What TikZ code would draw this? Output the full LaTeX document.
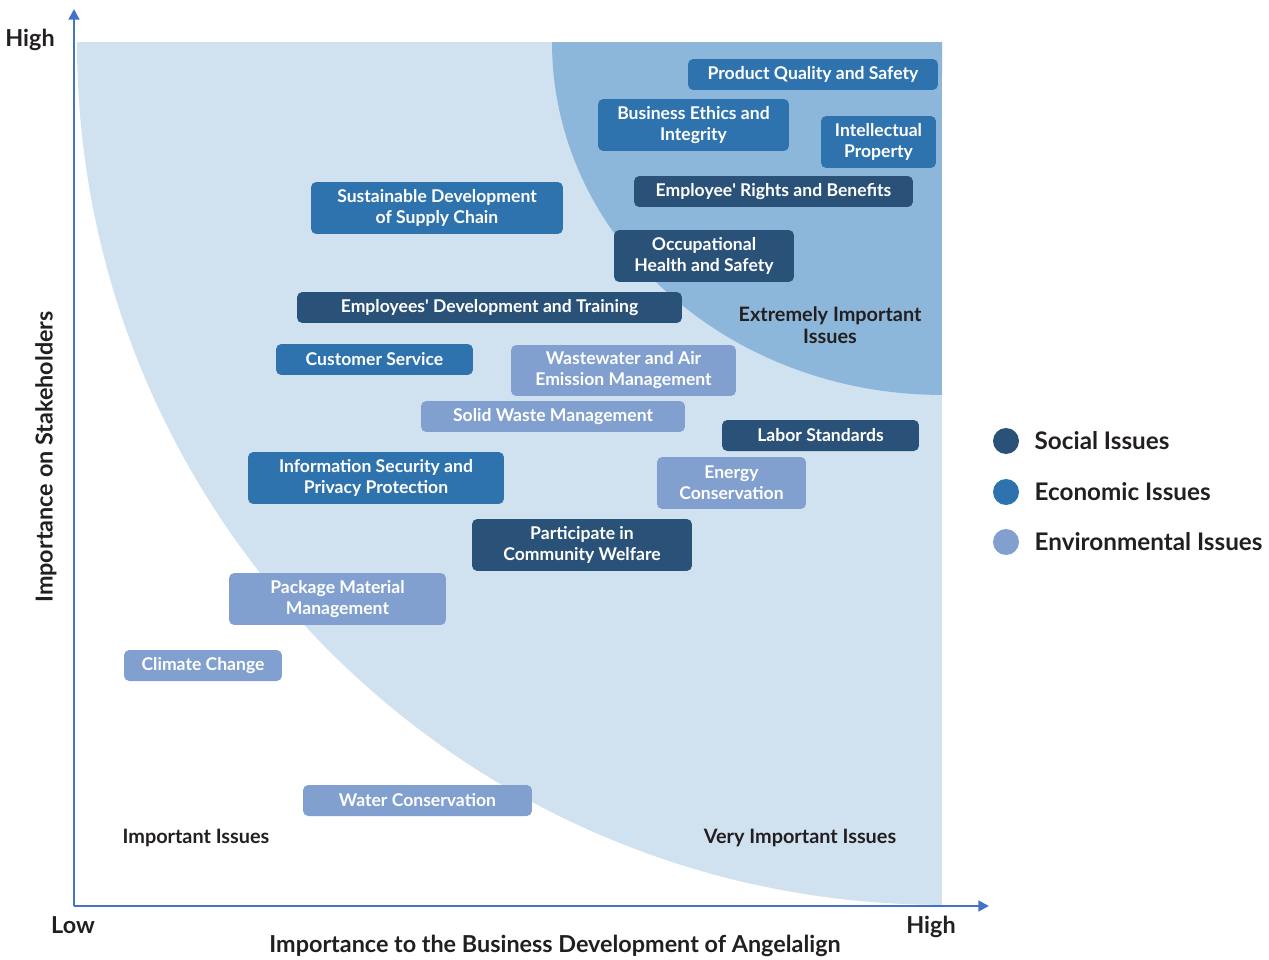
\documentclass[tikz,border=0pt]{standalone}
\usepackage{fontspec}
\setmainfont{Lato}
\usetikzlibrary{positioning,arrows.meta}

\definecolor{socialc}{HTML}{2A5279}
\definecolor{econc}{HTML}{2E73AD}
\definecolor{envc}{HTML}{819FCF}
\definecolor{zonelight}{HTML}{D0E2F0}
\definecolor{zonedark}{HTML}{8DB7DA}
\definecolor{axisc}{HTML}{4472C4}
\definecolor{inkc}{HTML}{231F20}

\tikzset{
  issue/.style={rounded corners=3pt, text=white, font=\fontsize{10}{12}\selectfont\bfseries,
    align=center, inner sep=0pt},
  social/.style={issue, fill=socialc},
  econ/.style={issue, fill=econc},
  env/.style={issue, fill=envc},
  axis/.style={draw=axisc, line width=1.6pt, -{Triangle[length=6pt,width=6pt]}},
  axlabel/.style={text=inkc, font=\fontsize{13.3}{15}\selectfont\bfseries},
  zone/.style={text=inkc, font=\fontsize{11.3}{12.8}\selectfont\bfseries, align=center},
  legdot/.style={circle, minimum size=0.52cm, inner sep=0pt},
  legtext/.style={text=inkc, font=\fontsize{13.8}{15}\selectfont\bfseries, inner sep=0pt, anchor=west}
}

\begin{document}
\begin{tikzpicture}[x=0.02cm, y=-0.02cm]
  \useasboundingbox (0,0) rectangle (1269,960);

  % importance zones
  \fill[zonelight] (942,42) -- (77,42) arc[start angle=180, end angle=270, x radius=17.3cm, y radius=17.26cm] -- cycle;
  \fill[zonedark] (942,42) -- (552,42) arc[start angle=180, end angle=270, x radius=7.8cm, y radius=7.06cm] -- cycle;

  % axes
  \coordinate (origin) at (74,906);
  \coordinate (ytip) at (74,9);
  \coordinate (xtip) at (989,906);
  \draw[axis] (origin) -- (ytip);
  \draw[axis] (origin) -- (xtip);

  \node[axlabel] (yhigh) at (30,40) {High};
  \node[axlabel] (xlow) at (73,925) {Low};
  \node[axlabel] (xhigh) at (931,927) {High};
  \node[axlabel] (xtitle) at (555,946) {Importance to the Business Development of Angelalign};
  \node[axlabel, rotate=90] (ytitle) at (46,457) {Importance on Stakeholders};

  % zone labels
  \node[zone] (extreme) at (830,325) {Extremely Important\\Issues};
  \node[zone] (very) at (800,838) {Very Important Issues};
  \node[zone] (important) at (196,838) {Important Issues};

  % issues
  \node[econ, minimum width=5cm, minimum height=0.62cm] (quality) at (813,74.5) {Product Quality and Safety};
  \node[econ, minimum width=3.82cm, minimum height=1.04cm] (ethics) at (693.5,125) {Business Ethics and\\Integrity};
  \node[econ, minimum width=2.3cm, minimum height=1.04cm] (ip) at (878.5,142) {Intellectual\\Property};
  \node[social, minimum width=5.58cm, minimum height=0.62cm] (rights) at (773.5,191.5) {Employee\textquotesingle{} Rights and Benefits};
  \node[social, minimum width=3.6cm, minimum height=1.04cm] (health) at (704,256) {Occupational\\Health and Safety};
  \node[econ, minimum width=5.04cm, minimum height=1.04cm] (supply) at (437,208) {Sustainable Development\\of Supply Chain};
  \node[social, minimum width=7.7cm, minimum height=0.62cm] (training) at (489.5,307.5) {Employees\textquotesingle{} Development and Training};
  \node[econ, minimum width=3.94cm, minimum height=0.62cm] (service) at (374.5,359.5) {Customer Service};
  \node[env, minimum width=4.5cm, minimum height=1.02cm] (emission) at (623.5,370.5) {Wastewater and Air\\Emission Management};
  \node[env, minimum width=5.28cm, minimum height=0.62cm] (waste) at (553,416.5) {Solid Waste Management};
  \node[social, minimum width=3.94cm, minimum height=0.62cm] (labor) at (820.5,435.5) {Labor Standards};
  \node[econ, minimum width=5.12cm, minimum height=1.04cm] (privacy) at (376,478) {Information Security and\\Privacy Protection};
  \node[env, minimum width=2.98cm, minimum height=1.04cm] (energy) at (731.5,483) {Energy\\Conservation};
  \node[social, minimum width=4.4cm, minimum height=1.04cm] (welfare) at (582,545) {Participate in\\Community Welfare};
  \node[env, minimum width=4.34cm, minimum height=1.04cm] (package) at (337.5,599) {Package Material\\Management};
  \node[env, minimum width=3.16cm, minimum height=0.62cm] (climate) at (203,665.5) {Climate Change};
  \node[env, minimum width=4.58cm, minimum height=0.62cm] (water) at (417.5,800.5) {Water Conservation};

  % legend
  \node[legdot, fill=socialc] (lsocial) at (1006,441) {};
  \node[legdot, fill=econc] (lecon) at (1006,492) {};
  \node[legdot, fill=envc] (lenv) at (1006,542) {};
  \node[legtext, right=0.3cm of lsocial] (tsocial) {Social Issues};
  \node[legtext, right=0.3cm of lecon] (tecon) {Economic Issues};
  \node[legtext, right=0.3cm of lenv] (tenv) {Environmental Issues};
\end{tikzpicture}
\end{document}
